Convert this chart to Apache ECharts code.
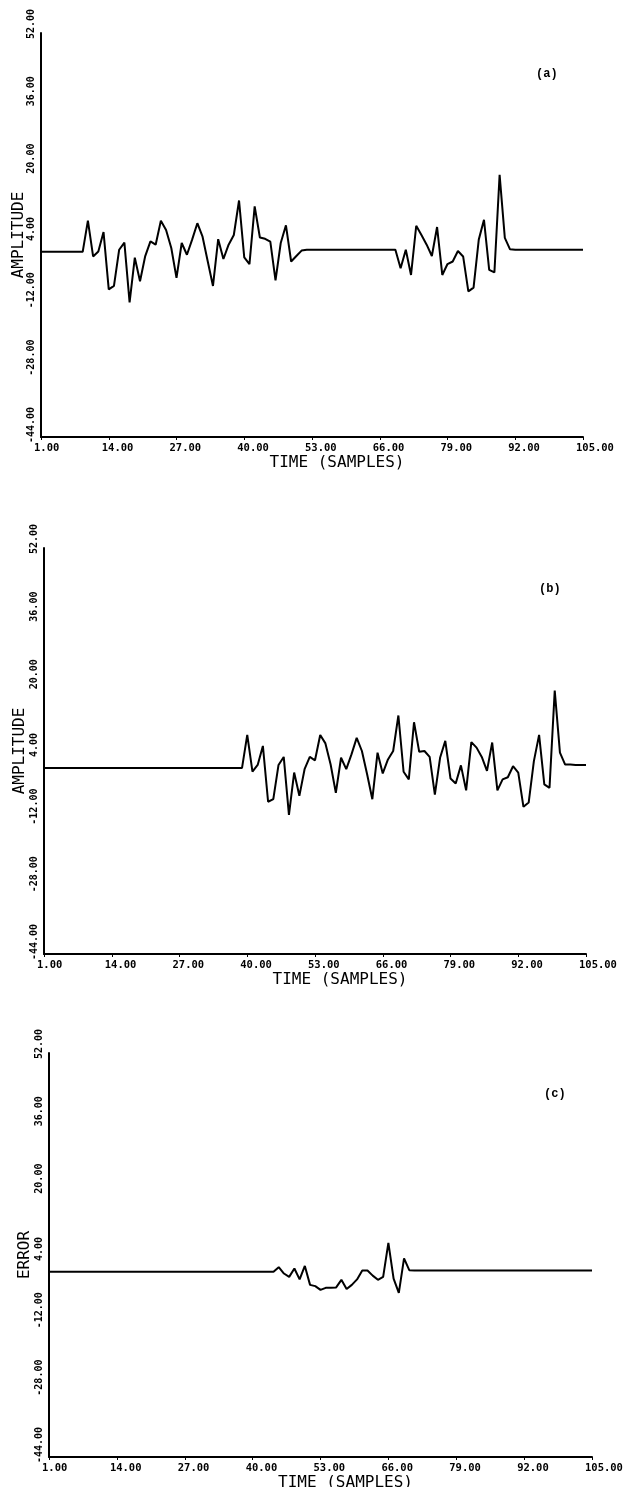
<!DOCTYPE html>
<html>
<head>
<meta charset="utf-8">
<title>Amplitude / Error</title>
<script src="https://cdn.jsdelivr.net/npm/echarts@6/dist/echarts.min.js"></script>
<style>
  html, body { margin: 0; padding: 0; background: #fff; }
  #myChart { width: 625px; height: 1487px; }
</style>
</head>
<body>
<div id="myChart"></div>
<script>
// time axis: samples 1..105
let samples = [];
for (let i = 1; i <= 105; i++) samples.push(String(i));
let xTicks = [1, 14, 27, 40, 53, 66, 79, 92, 105];
let yTicks = [-44, -28, -12, 4, 20, 36, 52];

// (a) input signal
let signalA = [
    0, 0, 0, 0, 0, 0, 0, 0, 0,
    7.4, -1.1, 0.1, 4.7, -8.9, -8.1, 0.5, 2.2, -12.0, -1.4,
    -7.0, -1.0, 2.5, 1.7, 7.4, 5.2, 0.9, -6.2, 2.1, -0.7,
    2.9, 6.8, 3.6, -2.3, -8.1, 3.0, -1.7, 1.7, 4.0, 12.2,
    -1.3, -2.9, 10.8, 3.4, 3.1, 2.4, -6.8, 2.1, 6.3, -2.3,
    -1.0, 0.3, 0.5, 0.5, 0.5, 0.5, 0.5, 0.5, 0.5, 0.5,
    0.5, 0.5, 0.5, 0.5, 0.5, 0.5, 0.5, 0.5, 0.5, 0.5,
    -3.9, 0.5, -5.5, 6.2, 4.0, 1.7, -1.0, 5.9, -5.5, -2.9,
    -2.3, 0.2, -1.1, -9.4, -8.5, 2.9, 7.6, -4.3, -4.9, 18.3,
    3.3, 0.6, 0.5, 0.5, 0.5, 0.5, 0.5, 0.5, 0.5, 0.5,
    0.5, 0.5, 0.5, 0.5, 0.5, 0.5
];

// (b) delayed signal
let signalB = [
    0, 0, 0, 0, 0, 0, 0, 0, 0,
    0, 0, 0, 0, 0, 0, 0, 0, 0, 0,
    0, 0, 0, 0, 0, 0, 0, 0, 0, 0,
    0, 0, 0, 0, 0, 0, 0, 0, 0, 0,
    7.8, -0.9, 0.7, 5.2, -8.0, -7.4, 0.7, 2.6, -11.1, -1.1,
    -6.6, -0.3, 2.6, 1.8, 7.8, 5.8, 0.8, -5.9, 2.4, -0.3,
    3.2, 7.1, 4.0, -1.5, -7.4, 3.6, -1.3, 2.0, 4.0, 12.4,
    -0.9, -2.7, 10.8, 3.8, 4.0, 2.6, -6.3, 2.4, 6.4, -2.5,
    -3.7, 0.6, -5.3, 6.1, 4.8, 2.6, -0.7, 6.0, -5.3, -2.7,
    -2.2, 0.4, -1.1, -9.2, -8.2, 1.6, 7.8, -3.9, -4.7, 18.3,
    3.6, 0.8, 0.8, 0.7, 0.7, 0.7
];

// (c) error
let errorC = [
    0, 0, 0, 0, 0, 0, 0, 0, 0, 0, 0,
    0, 0, 0, 0, 0, 0, 0, 0, 0, 0, 0,
    0, 0, 0, 0, 0, 0, 0, 0, 0, 0, 0,
    0, 0, 0, 0, 0, 0, 0, 0, 0, 0, 0,
    1.1, -0.4, -1.2, 0.8, -1.8, 1.4, -3.1, -3.4, -4.3, -3.8,
    -3.8, -3.7, -1.9, -4.1, -3.1, -1.8, 0.3, 0.3, -0.9, -1.9,
    -1.2, 6.9, -1.6, -5.0, 3.2, 0.4, 0.3, 0.3, 0.3, 0.3,
    0.3, 0.3, 0.3, 0.3, 0.3, 0.3, 0.3, 0.3, 0.3, 0.3,
    0.3, 0.3, 0.3, 0.3, 0.3, 0.3, 0.3, 0.3, 0.3, 0.3,
    0.3, 0.3, 0.3, 0.3, 0.3, 0.3, 0.3, 0.3, 0.3, 0.3,
    0.3
];

let panels = [
    { tag: '(a)', yName: 'AMPLITUDE', data: signalA, grid: { left: 41, top: 33, width: 542, height: 404 }, nameGap: 14 },
    { tag: '(b)', yName: 'AMPLITUDE', data: signalB, grid: { left: 44, top: 548, width: 542, height: 406 }, nameGap: 16 },
    { tag: '(c)', yName: 'ERROR', data: errorC, grid: { left: 49, top: 1053, width: 543, height: 404 }, nameGap: 16 }
];

let tickFont = 'DejaVu Sans Mono';
let showX = function (idx, val) { return xTicks.indexOf(Number(val)) >= 0; };

let option = {
    animation: false,
    backgroundColor: '#fff',
    title: [],
    grid: [],
    xAxis: [],
    yAxis: [],
    series: []
};

panels.forEach(function (p, i) {
    let g = Object.assign({ outerBoundsMode: 'none', containLabel: false }, p.grid);
    option.grid.push(g);
    option.title.push({
        text: p.tag,
        left: p.grid.left + 490,
        top: p.grid.top + 30,
        textStyle: { fontFamily: 'Liberation Mono', fontWeight: 'bold', fontSize: 12, color: '#000' }
    });
    option.xAxis.push({
        type: 'category',
        gridIndex: i,
        data: samples,
        boundaryGap: false,
        name: 'TIME (SAMPLES)',
        nameLocation: 'middle',
        nameGap: 18,
        nameMoveOverlap: false,
        nameTextStyle: { fontFamily: tickFont, fontSize: 16, color: '#000', padding: [0, 0, 0, 50] },
        axisLine: { onZero: false, lineStyle: { color: '#000', width: 2 } },
        axisTick: { interval: showX, length: 3, lineStyle: { color: '#000' } },
        axisLabel: {
            interval: showX,
            formatter: function (v) { return Number(v).toFixed(2); },
            align: 'left',
            padding: [0, 0, 0, -7],
            margin: 6,
            hideOverlap: false,
            fontFamily: tickFont,
            fontWeight: 'bold',
            fontSize: 10.5,
            color: '#000'
        },
        splitLine: { show: false }
    });
    option.yAxis.push({
        type: 'value',
        gridIndex: i,
        min: -44,
        max: 52,
        interval: 4,
        name: p.yName,
        nameLocation: 'middle',
        nameGap: p.nameGap,
        nameRotate: 90,
        nameMoveOverlap: false,
        nameTextStyle: { fontFamily: tickFont, fontSize: 16, color: '#000' },
        axisLine: { show: true, onZero: false, lineStyle: { color: '#000', width: 2 } },
        axisTick: { show: false },
        axisLabel: {
            rotate: 90,
            align: 'left',
            padding: [0, 0, 0, -6],
            margin: 5,
            formatter: function (v) { return yTicks.indexOf(v) >= 0 ? v.toFixed(2) : ''; },
            fontFamily: tickFont,
            fontWeight: 'bold',
            fontSize: 10,
            color: '#000'
        },
        splitLine: { show: false }
    });
    option.series.push({
        type: 'line',
        xAxisIndex: i,
        yAxisIndex: i,
        data: p.data,
        showSymbol: false,
        lineStyle: { color: '#000', width: 2 }
    });
});

let myChart = echarts.init(document.getElementById('myChart'));
myChart.setOption(option);
</script>
</body>
</html>
